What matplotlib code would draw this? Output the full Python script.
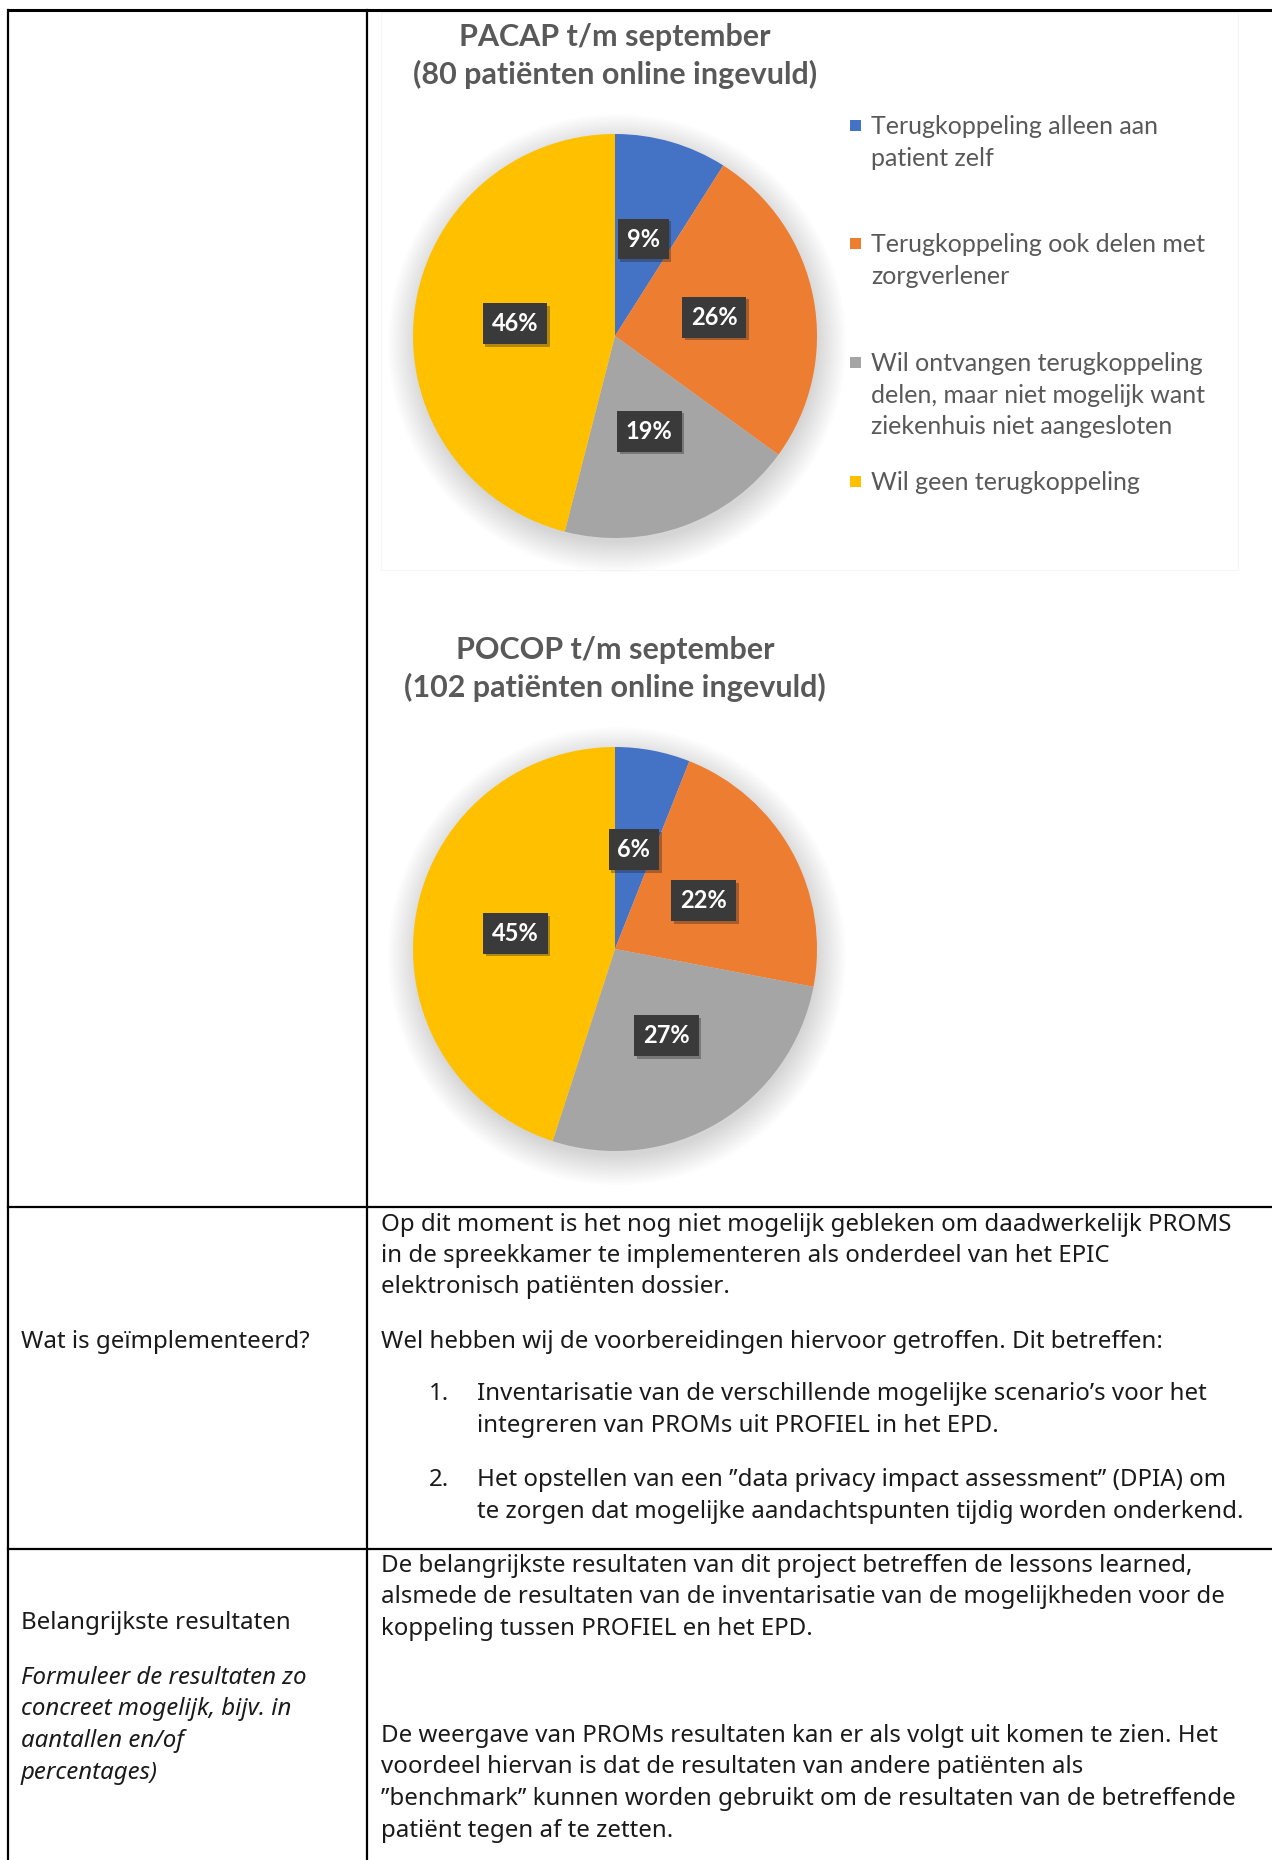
import matplotlib
matplotlib.use("Agg")
import matplotlib.pyplot as plt
import matplotlib.patheffects as pe
from matplotlib.patches import Rectangle, Circle

# data
categories = [
    "Terugkoppeling alleen aan\npatient zelf",
    "Terugkoppeling ook delen met\nzorgverlener",
    "Wil ontvangen terugkoppeling\ndelen, maar niet mogelijk want\nziekenhuis niet aangesloten",
    "Wil geen terugkoppeling",
]
pacap_pct = [9, 26, 19, 46]
pocop_pct = [6, 22, 27, 45]
pacap_title = "PACAP t/m september\n(80 patiënten online ingevuld)"
pocop_title = "POCOP t/m september\n(102 patiënten online ingevuld)"
colors = ["#4472C4", "#ED7D31", "#A5A5A5", "#FFC000"]

impl_label = "Wat is geïmplementeerd?"
impl_intro = [
    "Op dit moment is het nog niet mogelijk gebleken om daadwerkelijk PROMS",
    "in de spreekkamer te implementeren als onderdeel van het EPIC",
    "elektronisch patiënten dossier.",
]
impl_wel = "Wel hebben wij de voorbereidingen hiervoor getroffen. Dit betreffen:"
impl_items = [
    ["Inventarisatie van de verschillende mogelijke scenario’s voor het",
     "integreren van PROMs uit PROFIEL in het EPD."],
    ["Het opstellen van een ’’data privacy impact assessment’’ (DPIA) om",
     "te zorgen dat mogelijke aandachtspunten tijdig worden onderkend."],
]
res_label = "Belangrijkste resultaten"
res_hint = ["Formuleer de resultaten zo", "concreet mogelijk, bijv. in",
            "aantallen en/of", "percentages)"]
res_par1 = [
    "De belangrijkste resultaten van dit project betreffen de lessons learned,",
    "alsmede de resultaten van de inventarisatie van de mogelijkheden voor de",
    "koppeling tussen PROFIEL en het EPD.",
]
res_par2 = [
    "De weergave van PROMs resultaten kan er als volgt uit komen te zien. Het",
    "voordeel hiervan is dat de resultaten van andere patiënten als",
    "’’benchmark’’ kunnen worden gebruikt om de resultaten van de betreffende",
    "patiënt tegen af te zetten.",
]

W, H = 1272, 1860
fig = plt.figure(figsize=(W / 100, H / 100), dpi=100)
fig.patch.set_facecolor("white")

bg = fig.add_axes([0, 0, 1, 1])
bg.set_xlim(0, W)
bg.set_ylim(H, 0)
bg.axis("off")

# table lines
bg.plot([8, W], [10, 10], color="black", lw=2.2, solid_capstyle="butt")
bg.plot([8, W], [1207, 1207], color="black", lw=1.6)
bg.plot([8, W], [1549, 1549], color="black", lw=1.6)
bg.plot([8, 8], [10, H], color="black", lw=1.6)
bg.plot([367, 367], [10, H], color="black", lw=1.6)

# faint box of the first chart picture
bg.add_patch(Rectangle((381, 12), 857, 558, fc="white", ec="#f6f6f6", lw=0.8))

body_font = "Noto Sans"
body_size = 17.3
txt_col = "#1a1a1a"
tx = 381


def put(x, y, s, **kw):
    bg.text(x, y, s, fontsize=body_size, family=body_font, color=txt_col,
            va="center", ha="left", **kw)


for s, y in zip(impl_intro, [1225, 1256, 1287]):
    put(tx, y, s)
put(tx, 1342, impl_wel)
put(21, 1342, impl_label)
item_y = [[1394, 1426], [1480, 1512]]
for i, (lines, ys) in enumerate(zip(impl_items, item_y)):
    put(429, ys[0], f"{i + 1}.")
    for s, y in zip(lines, ys):
        put(477, y, s)

for s, y in zip(res_par1, [1566, 1597, 1629]):
    put(tx, y, s)
for s, y in zip(res_par2, [1736, 1767, 1799, 1831]):
    put(tx, y, s)
put(21, 1623, res_label)
for s, y in zip(res_hint, [1678, 1709, 1741, 1773]):
    put(21, y, s, style="italic")

title_font = "Lato"
title_col = "#595959"
bg.text(615, 56, pacap_title, ha="center", va="center", fontsize=22,
        family=title_font, fontweight="bold", color=title_col, linespacing=1.4)
bg.text(615, 669, pocop_title, ha="center", va="center", fontsize=22,
        family=title_font, fontweight="bold", color=title_col, linespacing=1.4)

# legend of the first chart
leg_y = [126, 244, 363, 482]
for lab, col, y in zip(categories, colors, leg_y):
    bg.add_patch(Rectangle((850, y - 6), 11, 11, fc=col, ec="none"))
    bg.text(871, y - 11, lab, ha="left", va="top", fontsize=18,
            family=title_font, color=title_col, linespacing=1.45)


def draw_pie(cx, cy, vals):
    r = 202
    lim = 1.3
    size = 2 * lim * r
    ax = fig.add_axes([(cx - size / 2) / W, 1 - (cy + size / 2) / H, size / W, size / H])
    # soft shadow
    for k in range(14):
        ax.add_patch(Circle((0.01, -0.035), 0.99 + 0.011 * k, fc="#000000",
                            ec="none", alpha=0.011, zorder=0))
    wedges, texts, autotexts = ax.pie(
        vals, colors=colors, startangle=90, counterclock=False,
        autopct=lambda p: f"{p:.0f}%", pctdistance=0.5,
        wedgeprops=dict(linewidth=0),
        textprops=dict(color="white", fontweight="bold", fontsize=17,
                       family=title_font))
    for w in wedges:
        w.set_zorder(2)
    for t in autotexts:
        t.set_zorder(3)
        t.set_bbox(dict(boxstyle="square,pad=0.38", fc="#3a3a3a", ec="none"))
        t.get_bbox_patch().set_path_effects(
            [pe.withSimplePatchShadow(offset=(2, -2), shadow_rgbFace="#222222", alpha=0.35)])
    ax.set_xlim(-lim, lim)
    ax.set_ylim(-lim, lim)
    ax.axis("off")
    return ax


draw_pie(615, 336, pacap_pct)
draw_pie(615, 949, pocop_pct)

fig.savefig("out.png", dpi=100, facecolor="white")
